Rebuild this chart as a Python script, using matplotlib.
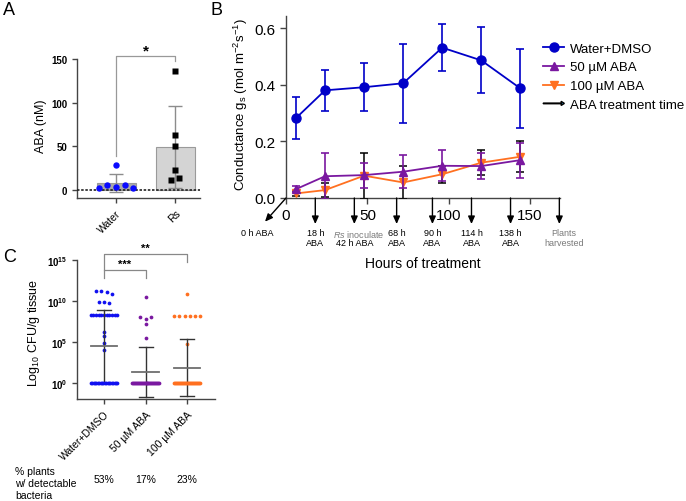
import numpy as np
import matplotlib
matplotlib.use('Agg')
import matplotlib.pyplot as plt
import matplotlib.patches as mpatches
import matplotlib.transforms as mtransforms
from matplotlib.lines import Line2D
from matplotlib.legend_handler import HandlerPatch
from matplotlib.ticker import NullLocator

plt.rcParams['font.family'] = ['Liberation Sans', 'DejaVu Sans']
plt.rcParams['mathtext.fontset'] = 'custom'
plt.rcParams['mathtext.rm'] = 'Liberation Sans'
plt.rcParams['mathtext.it'] = 'Liberation Sans:italic'
plt.rcParams['mathtext.bf'] = 'Liberation Sans:bold'

# ---- panel A: ABA content (nM)
a_groups = ['Water', 'Rs']
a_water = [2.8, 5.7, 3.9, 5.4, 2.0, 28.7]
a_rs = [135.9, 62.8, 50.2, 23.4, 11.9, 14.2]

# ---- panel B: stomatal conductance
b_hours = [6, 24, 48, 72, 96, 120, 144]
b_water = [0.282, 0.381, 0.392, 0.406, 0.532, 0.487, 0.388]
b_water_err = [0.074, 0.072, 0.085, 0.139, 0.084, 0.117, 0.139]
b_aba50 = [0.031, 0.077, 0.081, 0.093, 0.114, 0.113, 0.134]
b_aba50_err = [0.010, 0.082, 0.044, 0.058, 0.055, 0.046, 0.062]
b_aba100 = [0.016, 0.028, 0.079, 0.055, 0.084, 0.125, 0.146]
b_aba100_err = [0.008, 0.026, 0.082, 0.060, 0.030, 0.045, 0.055]
b_treat_hours = [18, 42, 68, 90, 114, 138]
b_treat_labels = ['18 h\nABA', '42 h ABA', '68 h\nABA', '90 h\nABA', '114 h\nABA', '138 h\nABA']
b_harvest = 168

# ---- panel C: bacterial load, log10 CFU/g
c_groups = ['Water+DMSO', '50 µM ABA', '100 µM ABA']
c_water_log = [11.2, 11.2, 11.1, 10.9, 9.9, 9.9, 9.8] + [8.3] * 11 + [6.15, 5.75, 4.8, 4.0] + [0.0] * 20
c_aba50_log = [10.5, 8.0, 7.8, 8.0, 7.2, 5.4] + [0.0] * 29
c_aba100_log = [10.9] + [8.1] * 6 + [4.7] + [0.0] * 27
c_pct = ['53%', '17%', '23%']

blue = '#0000c8'
blue_c = '#1010f0'
purple = '#7a18a0'
orange = '#ff7020'
spine = '#444444'


def swarm(vals, tol, step, maxw):
    # spread points that sit at about the same level side by side
    vals = np.asarray(vals, float)
    offs = np.zeros(len(vals))
    rows = []
    for i in np.argsort(vals, kind='stable'):
        if rows and vals[i] - vals[rows[-1][0]] < tol:
            rows[-1].append(i)
        else:
            rows.append([i])
    for r in rows:
        r = sorted(r)
        n = len(r)
        if n > 1:
            s = min(step, 2 * maxw / (n - 1))
            offs[r] = s * (np.arange(n) - (n - 1) / 2)
    return offs


def style(ax):
    ax.spines['top'].set_visible(False)
    ax.spines['right'].set_visible(False)
    for s in ('left', 'bottom'):
        ax.spines[s].set_color(spine)
        ax.spines[s].set_linewidth(1)
    ax.tick_params(color=spine, length=3.5, width=1)


W, H = 686, 502
fig = plt.figure(figsize=(6.86, 5.02), dpi=100)


def px_axes(l, t, r, b):
    return fig.add_axes([l / W, 1 - b / H, (r - l) / W, (b - t) / H])


axA = px_axes(77, 60, 200, 199)
axB = px_axes(286, 17, 560, 199)
axC = px_axes(77, 261, 215, 400)

# ================= A
xa = np.arange(2)
means = [np.mean(a_water), np.mean(a_rs)]
sds = [np.std(a_water, ddof=1), np.std(a_rs, ddof=1)]
axA.bar(xa, means, width=0.66, color=['#a9a9a9', '#d4d4d4'], edgecolor='#9a9a9a', lw=0.8, zorder=1)
axA.errorbar(xa, means, yerr=sds, fmt='none', ecolor='#8c8c8c', elinewidth=1,
             capsize=5, capthick=1, zorder=2)
axA.axhline(0, color='#222222', lw=1.2, ls=(0, (1.5, 1)), zorder=3)
axA.plot(0 + swarm(a_water, 5, 0.145, 0.3), a_water, 'o', color='#0a0aff', ms=4.6, mec='none', zorder=4)
axA.plot(1 + swarm(a_rs, 5, 0.145, 0.3), a_rs, 's', color='k', ms=4.2, mec='none', zorder=4)
axA.set_xlim(-0.66, 1.42)
axA.set_ylim(-9, 150)
axA.set_yticks([0, 50, 100, 150])
axA.set_yticklabels(['0', '50', '100', '150'], fontweight='bold', fontsize=7)
axA.set_xticks(xa)
axA.set_xticklabels(a_groups, rotation=45, ha='right', rotation_mode='anchor', fontsize=7.5)
style(axA)
axA.set_ylabel('ABA (nM)', fontsize=9)
axA.yaxis.set_label_coords(-0.244, 0.52)
axA.plot([0, 0, 1, 1], [38.7, 153.5, 153.5, 147.8], color='#999999', lw=0.9, clip_on=False)
axA.text(0.5, 160, '*', ha='center', va='center', fontsize=11, fontweight='bold')

# ================= B
axB.errorbar(b_hours, b_water, yerr=b_water_err, color=blue, marker='o', ms=6.5, lw=1.3,
             elinewidth=1.2, capsize=3, capthick=1.2, zorder=5, label='Water+DMSO')
axB.errorbar(b_hours, b_aba100, yerr=b_aba100_err, color=orange, ecolor='k', marker='v', ms=5.5,
             lw=1.3, elinewidth=1.1, capsize=3, capthick=1.1, zorder=3)
axB.errorbar(b_hours, b_aba50, yerr=b_aba50_err, color=purple, marker='^', ms=5.5, lw=1.3,
             elinewidth=1.2, capsize=3, capthick=1.2, zorder=4)
axB.set_xlim(0, 168.4)
axB.set_ylim(0, 0.644)
axB.set_xticks([0, 50, 100, 150])
axB.set_yticks([0, 0.2, 0.4, 0.6])
axB.set_yticklabels(['0.0', '0.2', '0.4', '0.6'])
style(axB)
axB.tick_params(labelsize=11, length=4)
axB.set_ylabel(r'Conductance g$_{\mathrm{s}}$ (mol m$^{-2}$s$^{-1}$)', fontsize=9.5)
axB.yaxis.set_label_coords(-0.13, 0.52)

trans = mtransforms.blended_transform_factory(axB.transData, axB.transAxes)
arrow_kw = dict(arrowstyle='-|>,head_length=0.45,head_width=0.2', color='k', lw=1,
                shrinkA=0, shrinkB=0)
for t in b_treat_hours + [b_harvest]:
    axB.annotate('', xy=(t, -0.143), xytext=(t, 0), xycoords=trans, textcoords=trans,
                 arrowprops=arrow_kw, annotation_clip=False)
axB.annotate('', xy=(-12.9, -0.13), xytext=(0, 0), xycoords=trans, textcoords=trans,
             arrowprops=arrow_kw, annotation_clip=False)
axB.text(-17.8, -0.165, '0 h ABA', transform=trans, ha='center', va='top', fontsize=6.5)
for t, lbl in zip(b_treat_hours, b_treat_labels):
    if t == 42:
        axB.text(t + 2.5, -0.165, r'$\it{Rs}$ inoculate', transform=trans, ha='center', va='top',
                 fontsize=6.5, color='#7a7a7a')
        axB.text(t, -0.222, lbl, transform=trans, ha='center', va='top', fontsize=6.5)
    else:
        axB.text(t, -0.165, lbl, transform=trans, ha='center', va='top', fontsize=6.5,
                 linespacing=1.15)
axB.text(b_harvest + 3, -0.165, 'Plants\nharvested', transform=trans, ha='center', va='top',
         fontsize=6.5, linespacing=1.15, color='#7a7a7a')
axB.text(84, -0.357, 'Hours of treatment', transform=trans, ha='center', va='center', fontsize=10)


def make_arrow(legend, orig_handle, xdescent, ydescent, width, height, fontsize):
    return mpatches.FancyArrow(-xdescent, 0.5 * height - ydescent, width, 0, width=0.07 * height,
                               length_includes_head=True, head_width=0.45 * height,
                               head_length=0.35 * height, color='k')


handles = [Line2D([], [], color=blue, marker='o', ms=6.5, lw=1.3),
           Line2D([], [], color=purple, marker='^', ms=5.5, lw=1.3),
           Line2D([], [], color=orange, marker='v', ms=5.5, lw=1.3),
           mpatches.FancyArrow(0, 0, 1, 0)]
labels = ['Water+DMSO', '50 µM ABA', '100 µM ABA', 'ABA treatment time']
fig.legend(handles, labels, loc='upper left', bbox_to_anchor=(538 / W, 1 - 38 / H),
           frameon=False, fontsize=9.5, handlelength=1.6, handletextpad=0.4,
           borderaxespad=0, handler_map={mpatches.FancyArrow: HandlerPatch(patch_func=make_arrow)})

# ================= C
c_sets = [c_water_log, c_aba50_log, c_aba100_log]
c_cols = [blue_c, purple, orange]
for i, (vals, col) in enumerate(zip(c_sets, c_cols)):
    vals = np.asarray(vals)
    offs = swarm(vals, 0.35, 0.125, 0.32)
    zero = vals == 0
    axC.plot(i + offs[~zero], 10 ** vals[~zero], 'o', color=col, ms=2.7, mec='none', zorder=2)
    axC.plot(i + offs[zero], 10 ** vals[zero], 'o', color=col, ms=2.7, mec='none', zorder=5)
    m = vals.mean()
    s = vals.std(ddof=1)
    axC.plot([i, i], [10 ** (m - s), 10 ** (m + s)], color='#333333', lw=1, zorder=3)
    for yy in (m - s, m + s):
        axC.plot([i - 0.17, i + 0.17], [10 ** yy] * 2, color='#333333', lw=1, zorder=3)
    axC.plot([i - 0.32, i + 0.32], [10 ** m] * 2, color='#6e6e6e', lw=1.3, zorder=4)

axC.set_yscale('log')
axC.set_ylim(1e-2, 1e15)
axC.set_xlim(-0.65, 2.67)
axC.set_yticks([1, 1e5, 1e10, 1e15])
axC.set_yticklabels([r'$\mathbf{10^{0}}$', r'$\mathbf{10^{5}}$', r'$\mathbf{10^{10}}$',
                     r'$\mathbf{10^{15}}$'], fontsize=7)
axC.yaxis.set_minor_locator(NullLocator())
axC.set_xticks(range(3))
axC.set_xticklabels(c_groups, rotation=45, ha='right', rotation_mode='anchor', fontsize=7.5)
style(axC)
axC.set_ylabel(r'Log$_{10}$ CFU/g tissue', fontsize=9)
axC.yaxis.set_label_coords(-0.254, 0.48)

axC.plot([0, 0, 2, 2], [10 ** 13.8, 10 ** 15.73, 10 ** 15.73, 10 ** 14.76], color='#888888',
         lw=0.9, clip_on=False)
axC.plot([0, 0, 1, 1], [10 ** 12.8, 10 ** 13.8, 10 ** 13.8, 10 ** 12.8], color='#888888',
         lw=0.9, clip_on=False)
axC.text(1, 10 ** 16.5, '**', ha='center', va='center', fontsize=8, fontweight='bold')
axC.text(0.5, 10 ** 14.5, '***', ha='center', va='center', fontsize=8, fontweight='bold')

ctrans = mtransforms.blended_transform_factory(axC.transData, axC.transAxes)
for i, p in enumerate(c_pct):
    axC.text(i, -0.576, p, transform=ctrans, ha='center', va='center', fontsize=7.5)
fig.text(15 / W, 1 - 467 / H, '% plants\nw/ detectable\nbacteria', ha='left', va='top',
         fontsize=7.5, linespacing=1.25)

# panel letters
fig.text(3 / W, 1 - 2 / H, 'A', fontsize=13, va='top')
fig.text(211 / W, 1 - 2 / H, 'B', fontsize=13, va='top')
fig.text(3 / W, 1 - 249 / H, 'C', fontsize=13, va='top')

fig.savefig('out.png', dpi=100)
